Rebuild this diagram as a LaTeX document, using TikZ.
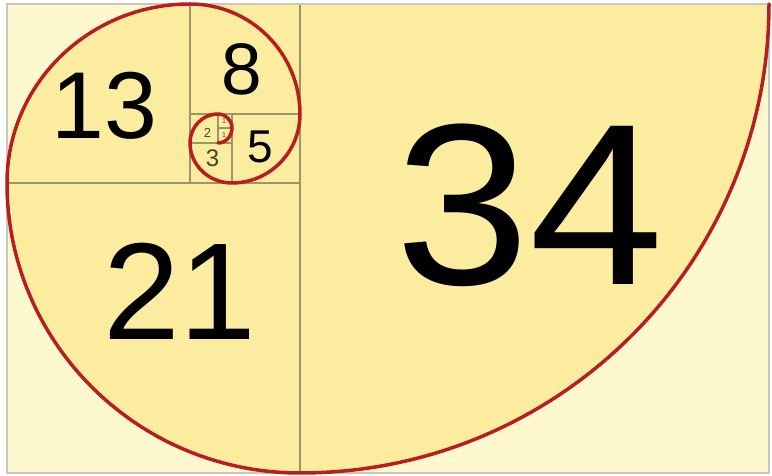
\documentclass[tikz,border=0pt]{standalone}
\usepackage{fontspec}
\setmainfont{Liberation Sans}
\definecolor{innerfill}{RGB}{252,236,160}
\definecolor{outerfill}{RGB}{253,248,206}
\definecolor{spiralred}{RGB}{185,30,30}
\definecolor{gridcol}{RGB}{155,150,105}
\definecolor{framecol}{RGB}{200,200,190}
\definecolor{smallcol}{RGB}{70,70,35}
\begin{document}
\begin{tikzpicture}[x=1pt,y=1pt,
  gridline/.style={draw=gridcol, line width=1.8pt},
  spiral/.style={draw=spiralred, line width=3.5pt, line join=round, line cap=round},
  num/.style={inner sep=0pt, outer sep=0pt, text=black},
  smallnum/.style={inner sep=0pt, outer sep=0pt, text=smallcol}]
\useasboundingbox (0,0) rectangle (772,476);
\fill[white] (0,0) rectangle (772,476);
\fill[outerfill] (7,3) rectangle (769,472);
% inside of the outer spiral turn
\fill[innerfill] (769,472)
  arc[start angle=0,end angle=-90,radius=469]
  arc[start angle=-90,end angle=-180,x radius=293,y radius=290]
  arc[start angle=180,end angle=90,x radius=183,y radius=179] -- cycle;
% square divisions
\draw[gridline] (300,472) -- (300,3);
\draw[gridline] (7,293) -- (300,293);
\draw[gridline] (190,472) -- (190,293);
\draw[gridline] (190,362) -- (300,362);
\draw[gridline] (232,362) -- (232,293);
\draw[gridline] (190,333) -- (232,333);
\draw[gridline] (218,362) -- (218,333);
\draw[gridline] (218,348) -- (232,348);
% frame
\draw[framecol, line width=1.5pt] (7,3) rectangle (769,472);
% spiral
\draw[spiral] (769,472)
  arc[start angle=0,end angle=-90,radius=469]
  arc[start angle=-90,end angle=-180,x radius=293,y radius=290]
  arc[start angle=180,end angle=90,x radius=183,y radius=179]
  arc[start angle=90,end angle=0,radius=110]
  arc[start angle=0,end angle=-90,x radius=68,y radius=69]
  arc[start angle=-90,end angle=-180,x radius=42,y radius=40]
  arc[start angle=180,end angle=90,x radius=28,y radius=29]
  arc[start angle=90,end angle=0,radius=14]
  arc[start angle=0,end angle=-90,x radius=14,y radius=15];
% labels
\node[num, xscale=1.05, font=\fontsize{230}{230}\selectfont] (n34) at (530,271) {34};
\node[num, font=\fontsize{138}{138}\selectfont] (n21) at (180,184.5) {21};
\node[num, font=\fontsize{95}{95}\selectfont] (n13) at (104.5,370) {13};
\node[num, font=\fontsize{73}{73}\selectfont] (n8) at (241.5,407) {8};
\node[num, font=\fontsize{46}{46}\selectfont] (n5) at (260.5,329.5) {5};
\node[smallnum, font=\fontsize{24}{24}\selectfont] (n3) at (212.5,317.5) {3};
\node[smallnum, font=\fontsize{13}{13}\selectfont] (n2) at (207.5,343.5) {2};
\node[smallnum, font=\fontsize{7}{7}\selectfont] (n1a) at (224,355) {1};
\node[smallnum, font=\fontsize{7}{7}\selectfont] (n1b) at (224,341) {1};
\end{tikzpicture}
\end{document}
